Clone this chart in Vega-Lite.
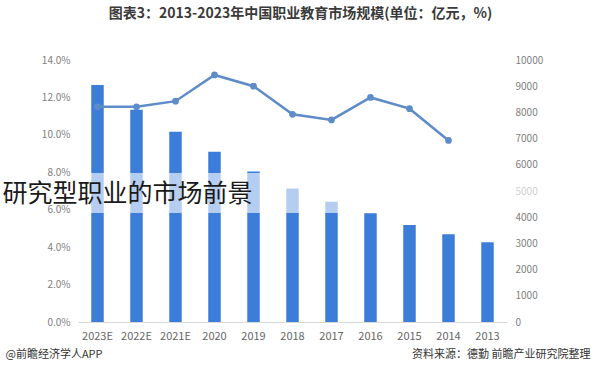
{
  "$schema": "https://vega.github.io/schema/vega-lite/v6.json",
  "width": 429,
  "height": 262,
  "autosize": "none",
  "padding": {"left": 78, "top": 60, "right": 93, "bottom": 52},
  "background": "white",
  "config": {"view": {"stroke": null}, "font": "Noto Sans CJK SC"},
  "title": {
    "text": "图表3：2013-2023年中国职业教育市场规模(单位：亿元，%)",
    "fontSize": 14,
    "fontWeight": "bold",
    "color": "#3a3a3a",
    "font": "Noto Sans CJK SC",
    "offset": 34,
    "dx": 8
  },
  "datasets": {
    "market": [
      {"year": "2023E", "size": 9050},
      {"year": "2022E", "size": 8100},
      {"year": "2021E", "size": 7260},
      {"year": "2020", "size": 6500},
      {"year": "2019", "size": 5740},
      {"year": "2018", "size": 5100},
      {"year": "2017", "size": 4590},
      {"year": "2016", "size": 4150},
      {"year": "2015", "size": 3700},
      {"year": "2014", "size": 3350},
      {"year": "2013", "size": 3040}
    ],
    "growth": [
      {"year": "2023E", "rate": 11.5},
      {"year": "2022E", "rate": 11.5},
      {"year": "2021E", "rate": 11.8},
      {"year": "2020", "rate": 13.2},
      {"year": "2019", "rate": 12.6},
      {"year": "2018", "rate": 11.1},
      {"year": "2017", "rate": 10.8},
      {"year": "2016", "rate": 12.0},
      {"year": "2015", "rate": 11.4},
      {"year": "2014", "rate": 9.7}
    ],
    "notes": [
      {"text": "研究型职业的市场前景"}
    ]
  },
  "encoding": {
    "x": {
      "field": "year",
      "type": "nominal",
      "scale": {
        "domain": ["2023E", "2022E", "2021E", "2020", "2019", "2018", "2017", "2016", "2015", "2014", "2013"],
        "paddingInner": 0.68,
        "paddingOuter": 0.34
      },
      "axis": {
        "title": null,
        "labelAngle": 0,
        "labelColor": "#666666",
        "labelFontSize": 11,
        "labelPadding": 8,
        "ticks": false,
        "domainColor": "#d9d9d9",
        "labelFont": "Noto Sans CJK SC"
      }
    }
  },
  "layer": [
    {
      "layer": [
        {
          "data": {"name": "market"},
          "mark": {"type": "bar", "color": "#3b7dd8"},
          "encoding": {
            "y": {
              "field": "size",
              "type": "quantitative",
              "scale": {"domain": [0, 10000]},
              "axis": {"orient": "right", "title": null, "values": [0, 1000, 2000, 3000, 4000, 5000, 6000, 7000, 8000, 9000, 10000], "format": "d", "grid": false, "domain": false, "ticks": false, "labelOverlap": false, "labelColor": "#808080", "labelFontSize": 10, "labelPadding": 8, "labelFont": "Noto Sans CJK SC"}
            }
          }
        },
        {
          "data": {"name": "notes"},
          "mark": {"type": "rect", "color": "white", "opacity": 0.62},
          "encoding": {
            "x": {"value": 0},
            "x2": {"value": 600},
            "y": {"datum": 5690, "type": "quantitative", "scale": {"domain": [0, 10000]},
              "axis": {"orient": "right", "title": null, "values": [0, 1000, 2000, 3000, 4000, 5000, 6000, 7000, 8000, 9000, 10000], "format": "d", "grid": false, "domain": false, "ticks": false, "labelOverlap": false, "labelColor": "#808080", "labelFontSize": 10, "labelPadding": 8, "labelFont": "Noto Sans CJK SC"}},
            "y2": {"datum": 4160}
          }
        },
        {
          "data": {"name": "notes"},
          "mark": {"type": "text", "align": "left", "baseline": "middle", "fontSize": 25, "color": "#1a1a1a", "font": "Noto Sans CJK SC", "dx": -95, "clip": false},
          "encoding": {
            "x": {"datum": "2023E"},
            "y": {"datum": 4885, "type": "quantitative", "scale": {"domain": [0, 10000]},
              "axis": {"orient": "right", "title": null, "values": [0, 1000, 2000, 3000, 4000, 5000, 6000, 7000, 8000, 9000, 10000], "format": "d", "grid": false, "domain": false, "ticks": false, "labelOverlap": false, "labelColor": "#808080", "labelFontSize": 10, "labelPadding": 8, "labelFont": "Noto Sans CJK SC"}},
            "text": {"field": "text"}
          }
        },
        {
          "data": {"values": [{"t": "资料来源：德勤 前瞻产业研究院整理"}]},
          "mark": {"type": "text", "align": "right", "baseline": "middle", "fontSize": 11, "color": "#333333", "font": "Noto Sans CJK SC", "dx": 103},
          "encoding": {
            "x": {"datum": "2013"},
            "y": {"datum": -1250, "type": "quantitative", "scale": {"domain": [0, 10000]},
              "axis": {"orient": "right", "title": null, "values": [0, 1000, 2000, 3000, 4000, 5000, 6000, 7000, 8000, 9000, 10000], "format": "d", "grid": false, "domain": false, "ticks": false, "labelOverlap": false, "labelColor": "#808080", "labelFontSize": 10, "labelPadding": 8, "labelFont": "Noto Sans CJK SC"}},
            "text": {"field": "t"}
          }
        },
        {
          "data": {"values": [{"t": "@前瞻经济学人APP"}]},
          "mark": {"type": "text", "align": "left", "baseline": "middle", "fontSize": 11, "color": "#333333", "font": "Noto Sans CJK SC", "dx": -92},
          "encoding": {
            "x": {"datum": "2023E"},
            "y": {"datum": -1250, "type": "quantitative", "scale": {"domain": [0, 10000]},
              "axis": {"orient": "right", "title": null, "values": [0, 1000, 2000, 3000, 4000, 5000, 6000, 7000, 8000, 9000, 10000], "format": "d", "grid": false, "domain": false, "ticks": false, "labelOverlap": false, "labelColor": "#808080", "labelFontSize": 10, "labelPadding": 8, "labelFont": "Noto Sans CJK SC"}},
            "text": {"field": "t"}
          }
        }
      ]
    },
    {
      "data": {"name": "growth"},
      "mark": {"type": "line", "color": "#5e8cc8", "strokeWidth": 2.5, "point": {"filled": true, "size": 45, "color": "#5e8cc8"}},
      "encoding": {
        "y": {
          "field": "rate",
          "type": "quantitative",
          "scale": {"domain": [0, 14]},
          "axis": {
            "orient": "left",
            "title": null,
            "values": [0, 2, 4, 6, 8, 10, 12, 14],
            "labelExpr": "format(datum.value, '.1f') + '%'",
            "grid": false,
            "domain": false,
            "ticks": false,
            "labelOverlap": false,
            "labelColor": "#808080",
            "labelFontSize": 10,
            "labelPadding": 8,
            "labelFont": "Noto Sans CJK SC"
          }
        }
      }
    }
  ],
  "resolve": {"scale": {"y": "independent"}}
}
